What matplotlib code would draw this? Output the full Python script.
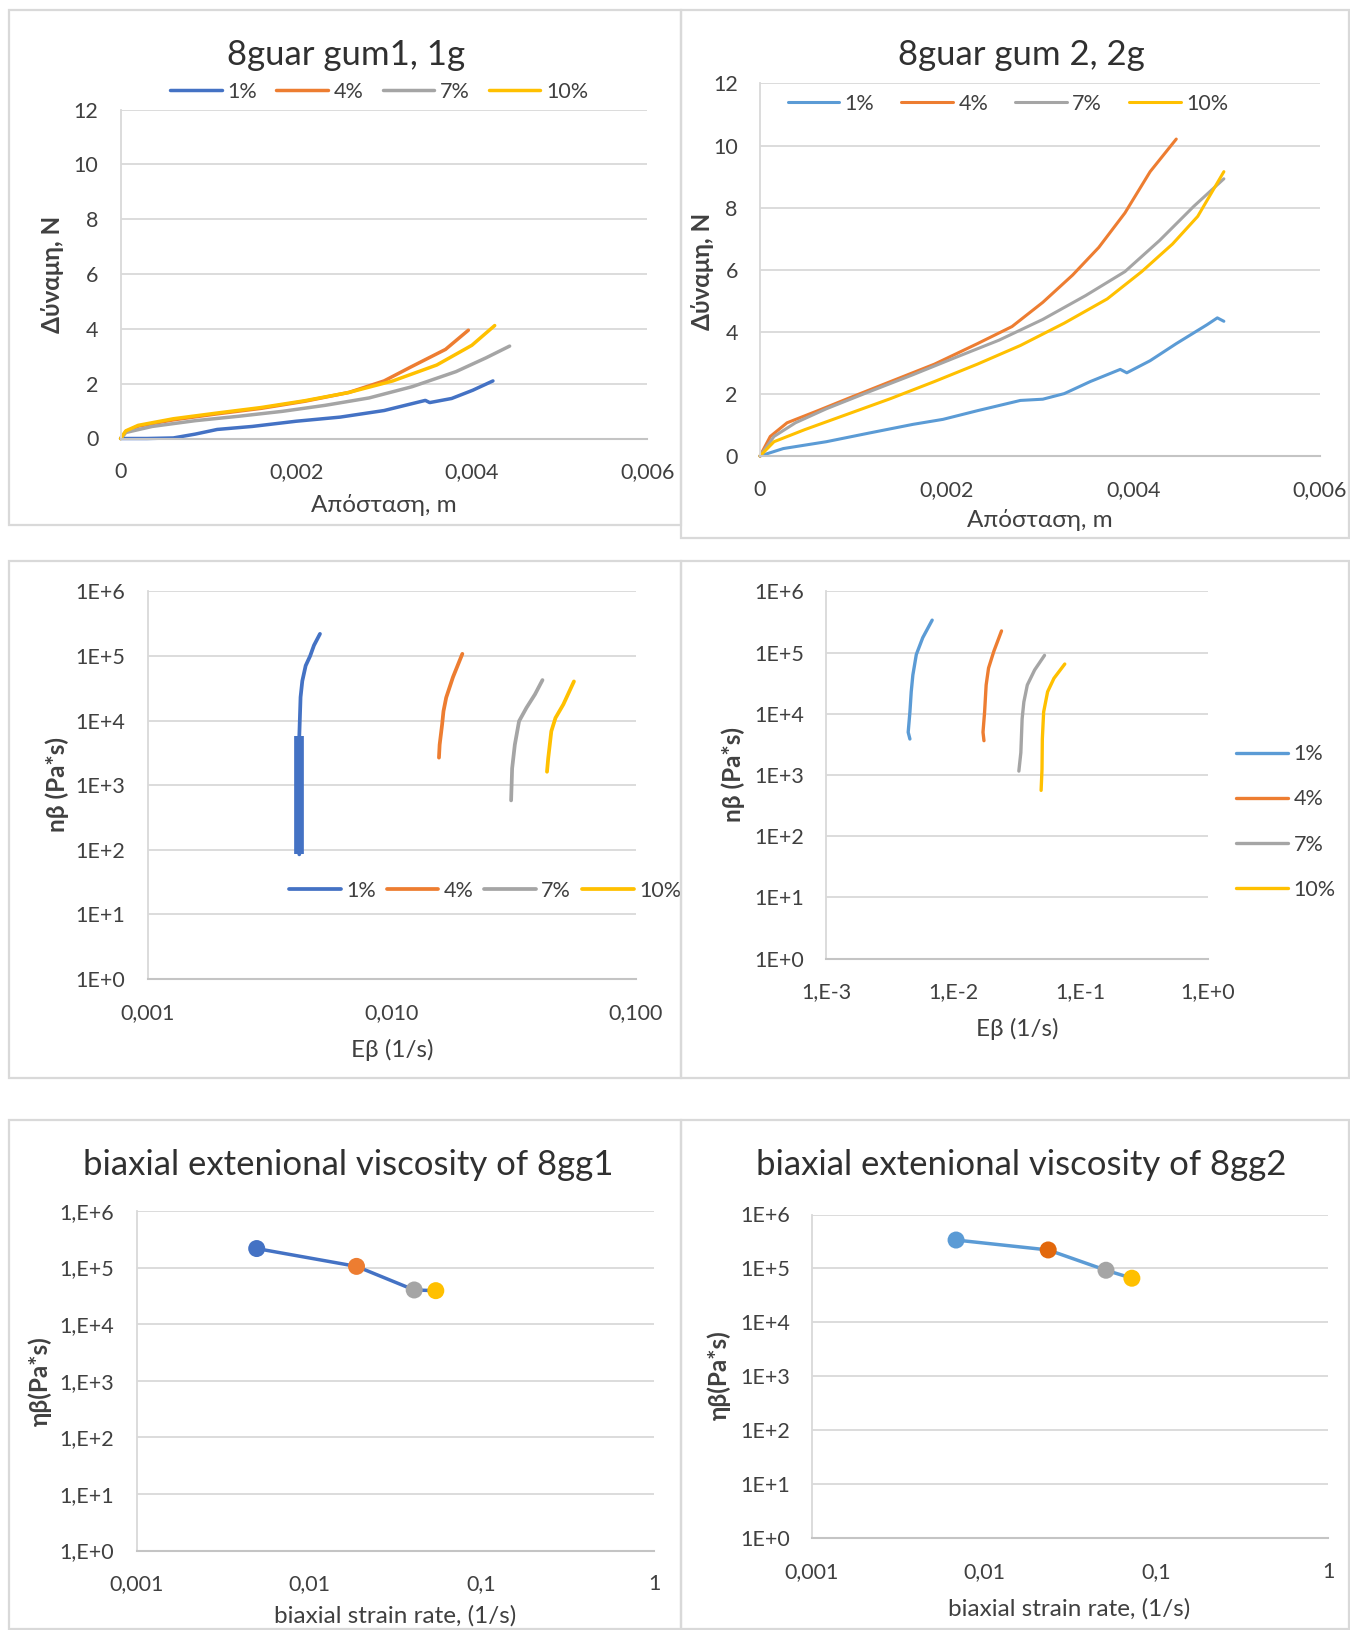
import matplotlib
matplotlib.use("Agg")
import matplotlib.pyplot as plt
from matplotlib.patches import Rectangle

plt.rcParams['font.family'] = ['Lato', 'DejaVu Sans']

# ---------------- data ----------------
conc_labels = ['1%', '4%', '7%', '10%']

# 8guar gum1, 1g : force (N) vs distance (m)
g1_dist_1 = [0, 0.0003, 0.0006, 0.00085, 0.0011, 0.0015, 0.0020, 0.0025, 0.0030, 0.00347, 0.00352, 0.00377, 0.00401, 0.00424]
g1_force_1 = [0, 0.0, 0.02, 0.16, 0.33, 0.44, 0.63, 0.78, 1.02, 1.39, 1.31, 1.46, 1.76, 2.10]
g1_dist_4 = [0, 0.00006, 0.0002, 0.0006, 0.0011, 0.0016, 0.0021, 0.0026, 0.0030, 0.0033, 0.0037, 0.00396]
g1_force_4 = [0, 0.25, 0.45, 0.68, 0.90, 1.10, 1.36, 1.68, 2.10, 2.60, 3.25, 3.95]
g1_dist_7 = [0, 0.00006, 0.00036, 0.00085, 0.00134, 0.00184, 0.00233, 0.00283, 0.00332, 0.00382, 0.00416, 0.00443]
g1_force_7 = [0, 0.22, 0.44, 0.65, 0.81, 0.99, 1.21, 1.48, 1.89, 2.44, 2.94, 3.37]
g1_dist_10 = [0, 0.00006, 0.0002, 0.0006, 0.0011, 0.0016, 0.0021, 0.0026, 0.0031, 0.0036, 0.0040, 0.00426]
g1_force_10 = [0, 0.28, 0.48, 0.72, 0.93, 1.13, 1.38, 1.68, 2.10, 2.68, 3.40, 4.12]

# 8guar gum 2, 2g : force (N) vs distance (m)
g2_dist_1 = [0, 0.00025, 0.00071, 0.00117, 0.00164, 0.00196, 0.00233, 0.00279, 0.00303, 0.00326, 0.00354, 0.00386, 0.00393, 0.00418, 0.00446, 0.00479, 0.0049, 0.00497]
g2_force_1 = [0, 0.24, 0.46, 0.74, 1.02, 1.18, 1.46, 1.79, 1.83, 2.01, 2.40, 2.79, 2.68, 3.07, 3.62, 4.23, 4.45, 4.34]
g2_dist_4 = [0, 0.00011, 0.00029, 0.00062, 0.00094, 0.0014, 0.00187, 0.00233, 0.0027, 0.00303, 0.00335, 0.00363, 0.00391, 0.00418, 0.00446]
g2_force_4 = [0, 0.63, 1.07, 1.46, 1.85, 2.40, 2.96, 3.62, 4.17, 4.95, 5.83, 6.72, 7.83, 9.16, 10.21]
g2_dist_7 = [0, 0.00015, 0.00038, 0.00071, 0.00117, 0.00164, 0.0021, 0.00256, 0.00303, 0.00349, 0.00391, 0.00428, 0.00465, 0.00497]
g2_force_7 = [0, 0.63, 1.07, 1.52, 2.07, 2.62, 3.18, 3.73, 4.40, 5.17, 5.94, 6.94, 8.05, 8.93]
g2_dist_10 = [0, 0.00015, 0.00048, 0.00094, 0.0014, 0.00187, 0.00233, 0.00279, 0.00326, 0.00372, 0.00409, 0.00442, 0.00469, 0.00497]
g2_force_10 = [0, 0.46, 0.85, 1.35, 1.85, 2.40, 2.96, 3.56, 4.28, 5.06, 5.94, 6.83, 7.72, 9.16]

# 8gg1 : biaxial viscosity (Pa*s) vs biaxial strain rate (1/s)
g1_rate_1 = [0.00418, 0.00418, 0.00420, 0.00423, 0.0043, 0.00444, 0.00463, 0.0048, 0.00508]
g1_visc_1 = [85, 5700, 1.0e4, 2.3e4, 4.1e4, 7.1e4, 1.0e5, 1.46e5, 2.2e5]
g1_rate_4 = [0.0156, 0.0157, 0.01607, 0.01628, 0.0167, 0.0178, 0.01945]
g1_visc_4 = [2670, 4230, 8700, 1.4e4, 2.27e4, 4.7e4, 1.08e5]
g1_rate_7 = [0.0308, 0.0311, 0.0319, 0.0332, 0.0356, 0.0386, 0.0414]
g1_visc_7 = [582, 1820, 4230, 9800, 1.58e4, 2.56e4, 4.24e4]
g1_rate_10 = [0.0432, 0.0437, 0.045, 0.0468, 0.0504, 0.0557]
g1_visc_10 = [1615, 2610, 6830, 1.1e4, 1.78e4, 4.04e4]
g1_noisy_points = 2   # leading points of the 1% run recorded as a scattered band

# 8gg2 : biaxial viscosity (Pa*s) vs biaxial strain rate (1/s)
g2_rate_1 = [0.00456, 0.00442, 0.00456, 0.00467, 0.00481, 0.00512, 0.00575, 0.00682]
g2_visc_1 = [3870, 4990, 1.07e4, 2.29e4, 4.3e4, 9.3e4, 1.75e5, 3.39e5]
g2_rate_4 = [0.0174, 0.0171, 0.0176, 0.0181, 0.0189, 0.0208, 0.0239]
g2_visc_4 = [3630, 5000, 1.07e4, 2.95e4, 5.57e4, 1.05e5, 2.26e5]
g2_rate_7 = [0.0327, 0.0339, 0.0347, 0.0358, 0.0381, 0.0435, 0.052]
g2_visc_7 = [1156, 2320, 8300, 1.56e4, 2.95e4, 5.2e4, 9.0e4]
g2_rate_10 = [0.0489, 0.0497, 0.0500, 0.0512, 0.055, 0.0617, 0.075]
g2_visc_10 = [560, 1230, 3870, 1.07e4, 2.29e4, 3.8e4, 6.5e4]

# peak biaxial extensional viscosity per concentration
peak_rate_gg1 = [0.00497, 0.01884, 0.0407, 0.0543]
peak_visc_gg1 = [2.17e5, 1.05e5, 4.02e4, 3.91e4]
peak_rate_gg2 = [0.00688, 0.02362, 0.0512, 0.0724]
peak_visc_gg2 = [3.36e5, 2.2e5, 9.25e4, 6.58e4]

# tick values and labels
force_ticks = [0, 2, 4, 6, 8, 10, 12]
dist_ticks = [0, 0.002, 0.004, 0.006]
dist_labels = ['0', '0,002', '0,004', '0,006']
visc_ticks = [1e0, 1e1, 1e2, 1e3, 1e4, 1e5, 1e6]
visc_labels_e = ['1E+0', '1E+1', '1E+2', '1E+3', '1E+4', '1E+5', '1E+6']
visc_labels_ce = ['1,E+0', '1,E+1', '1,E+2', '1,E+3', '1,E+4', '1,E+5', '1,E+6']
rate_ticks_a = [0.001, 0.01, 0.1]
rate_labels_a = ['0,001', '0,010', '0,100']
rate_ticks_b = [0.001, 0.01, 0.1, 1]
rate_labels_b = ['1,E-3', '1,E-2', '1,E-1', '1,E+0']
rate_labels_c = ['0,001', '0,01', '0,1', '1']

# ---------------- style ----------------
W, H = 1350, 1630
fig = plt.figure(figsize=(W / 100, H / 100), dpi=100)
fig.patch.set_facecolor('white')

BLUE_A = '#4472C4'
BLUE_B = '#5B9BD5'
ORANGE = '#ED7D31'
ORANGE_D = '#E2680C'
GRAY = '#A5A5A5'
GOLD = '#FFC000'
TEXT = '#404040'
TITLE_C = '#303030'
GRID = '#D9D9D9'
AXIS = '#C4C4C4'

TICK_FS = 15.5
LABEL_FS = 17.5
TITLE_FS = 25


def axes_px(left, top, right, bottom):
    return fig.add_axes([left / W, 1 - bottom / H, (right - left) / W, (bottom - top) / H])


def fxy(x, y):
    return (x / W, 1 - y / H)


def frame(left, top, right, bottom):
    fig.patches.append(Rectangle((left / W, 1 - bottom / H), (right - left) / W, (bottom - top) / H,
                                 transform=fig.transFigure, fill=False, edgecolor=GRID, lw=1.6))


def style(ax, xt, xl, yt, yl, log=False):
    if log:
        ax.set_xscale('log')
        ax.set_yscale('log')
    ax.set_xlim(xt[0], xt[-1])
    ax.set_ylim(yt[0], yt[-1])
    ax.set_xticks(xt)
    ax.set_xticklabels(xl)
    ax.set_yticks(yt)
    ax.set_yticklabels(yl)
    ax.minorticks_off()
    ax.tick_params(axis='both', length=0, labelsize=TICK_FS, labelcolor=TEXT)
    ax.tick_params(axis='y', pad=16)
    ax.tick_params(axis='x', pad=17)
    ax.yaxis.grid(True, color=GRID, lw=1.3)
    ax.set_axisbelow(True)
    for s in ('top', 'right'):
        ax.spines[s].set_visible(False)
    ax.spines['left'].set_color(GRID)
    ax.spines['left'].set_linewidth(1.3)
    ax.spines['bottom'].set_color(AXIS)
    ax.spines['bottom'].set_linewidth(1.5)
    ax.patch.set_alpha(0)


def labels(xlab, xpos, ylab, ypos, bold_y=True):
    fig.text(*fxy(*xpos), xlab, ha='center', va='center', fontsize=LABEL_FS, color=TEXT)
    fig.text(*fxy(*ypos), ylab, ha='center', va='center', rotation=90, fontsize=LABEL_FS,
             color=TEXT, fontweight='bold' if bold_y else 'normal')


def legend(ax, handles, pos, ncol, colsp=0.9, **kw):
    ax.legend(handles, conc_labels, loc='center', bbox_to_anchor=fxy(*pos),
              bbox_transform=fig.transFigure, ncol=ncol, frameon=False, fontsize=TICK_FS,
              handlelength=2.4, handletextpad=0.25, columnspacing=colsp, labelcolor=TEXT,
              borderpad=0, borderaxespad=0, **kw)


# panel frames
frame(9, 10, 681, 525)
frame(681, 10, 1349, 538)
frame(9, 561, 681, 1078)
frame(681, 561, 1349, 1078)
frame(9, 1120, 681, 1629)
frame(681, 1120, 1349, 1629)

# ---- 8guar gum1, 1g ----
ax = axes_px(120.6, 109.5, 647.5, 438.5)
style(ax, dist_ticks, dist_labels, force_ticks, [str(v) for v in force_ticks])
cols = [BLUE_A, ORANGE, GRAY, GOLD]
series = [(g1_dist_1, g1_force_1), (g1_dist_4, g1_force_4), (g1_dist_7, g1_force_7), (g1_dist_10, g1_force_10)]
hs = [ax.plot(x, y, color=c, lw=2.5, clip_on=False, solid_capstyle='round')[0] for (x, y), c in zip(series, cols)]
legend(ax, hs, (379, 91.5), 4, colsp=0.9)
fig.text(*fxy(346, 55), '8guar gum1, 1g', ha='center', va='center', fontsize=TITLE_FS, color=TITLE_C)
labels('Απόσταση, m', (384, 505), 'Δύναμη, N', (52, 274))

# ---- 8guar gum 2, 2g ----
ax = axes_px(760, 83.5, 1320, 456)
style(ax, dist_ticks, dist_labels, force_ticks, [str(v) for v in force_ticks])
cols = [BLUE_B, ORANGE, GRAY, GOLD]
series = [(g2_dist_1, g2_force_1), (g2_dist_4, g2_force_4), (g2_dist_7, g2_force_7), (g2_dist_10, g2_force_10)]
hs = [ax.plot(x, y, color=c, lw=2.2, clip_on=False, solid_capstyle='round')[0] for (x, y), c in zip(series, cols)]
legend(ax, hs, (1008, 104), 4, colsp=1.25)
fig.text(*fxy(1021, 55), '8guar gum 2, 2g', ha='center', va='center', fontsize=TITLE_FS, color=TITLE_C)
labels('Απόσταση, m', (1040, 520), 'Δύναμη, N', (703, 271))

# ---- 8gg1 viscosity curves ----
ax = axes_px(147.6, 591.4, 636, 979)
style(ax, rate_ticks_a, rate_labels_a, visc_ticks, visc_labels_e, log=True)
cols = [BLUE_A, ORANGE, GRAY, GOLD]
series = [(g1_rate_1, g1_visc_1), (g1_rate_4, g1_visc_4), (g1_rate_7, g1_visc_7), (g1_rate_10, g1_visc_10)]
hs = [ax.plot(x, y, color=c, lw=2.7, solid_capstyle='round')[0] for (x, y), c in zip(series, cols)]
ax.plot(g1_rate_1[:g1_noisy_points], g1_visc_1[:g1_noisy_points], color=BLUE_A, lw=7, solid_capstyle='butt')
legend(ax, hs, (485, 891), 4, colsp=0.5)
labels('Εβ (1/s)', (392, 1050), 'nβ (Pa*s)', (57, 785))

# ---- 8gg2 viscosity curves ----
ax = axes_px(826, 591.4, 1208, 958.5)
style(ax, rate_ticks_b, rate_labels_b, visc_ticks, visc_labels_e, log=True)
cols = [BLUE_B, ORANGE, GRAY, GOLD]
series = [(g2_rate_1, g2_visc_1), (g2_rate_4, g2_visc_4), (g2_rate_7, g2_visc_7), (g2_rate_10, g2_visc_10)]
hs = [ax.plot(x, y, color=c, lw=2.4, solid_capstyle='round')[0] for (x, y), c in zip(series, cols)]
legend(ax, hs, (1286, 822), 1, labelspacing=1.17)
labels('Εβ (1/s)', (1017, 1029), 'nβ (Pa*s)', (733, 775))

# ---- peak viscosity 8gg1 ----
ax = axes_px(136.6, 1211, 654, 1550.5)
style(ax, rate_ticks_b, rate_labels_c, visc_ticks, visc_labels_ce, log=True)
ax.plot(peak_rate_gg1, peak_visc_gg1, color=BLUE_A, lw=2.5, zorder=3)
ax.scatter(peak_rate_gg1, peak_visc_gg1, s=150, c=[BLUE_A, ORANGE, GRAY, GOLD], zorder=4, linewidths=0)
fig.text(*fxy(348, 1165), 'biaxial extenional viscosity of 8gg1', ha='center', va='center',
         fontsize=TITLE_FS, color=TITLE_C)
labels('biaxial strain rate, (1/s)', (395, 1616), 'ηβ(Pa*s)', (40, 1381))

# ---- peak viscosity 8gg2 ----
ax = axes_px(812, 1214.5, 1328, 1538)
style(ax, rate_ticks_b, rate_labels_c, visc_ticks, visc_labels_e, log=True)
ax.plot(peak_rate_gg2, peak_visc_gg2, color=BLUE_B, lw=2.5, zorder=3)
ax.scatter(peak_rate_gg2, peak_visc_gg2, s=150, c=[BLUE_B, ORANGE_D, GRAY, GOLD], zorder=4, linewidths=0)
fig.text(*fxy(1021, 1165), 'biaxial extenional viscosity of 8gg2', ha='center', va='center',
         fontsize=TITLE_FS, color=TITLE_C)
labels('biaxial strain rate, (1/s)', (1069, 1609), 'ηβ(Pa*s)', (719, 1375))

fig.savefig('out.png', dpi=100, facecolor='white')
